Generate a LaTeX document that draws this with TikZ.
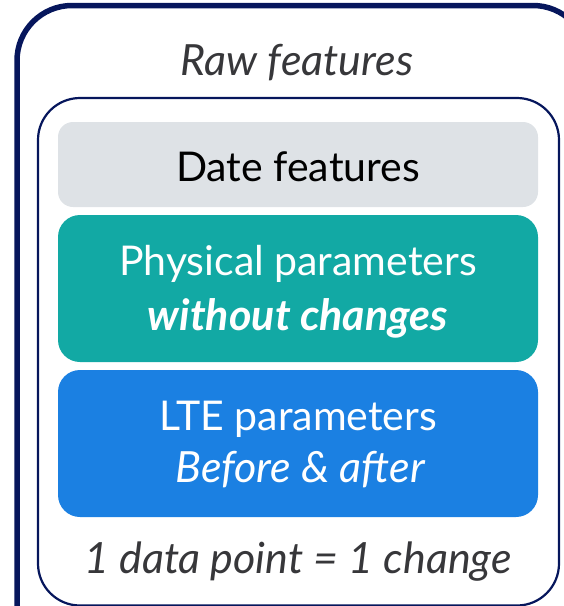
\documentclass[tikz,border=0pt]{standalone}
\usepackage{fontspec}
\setmainfont{Lato}
\definecolor{navy}{RGB}{6,22,92}
\definecolor{grayfill}{RGB}{222,226,230}
\definecolor{tealfill}{RGB}{18,169,164}
\definecolor{bluefill}{RGB}{27,128,226}
\definecolor{txtgray}{RGB}{55,55,58}
\begin{document}
\begin{tikzpicture}[x=1pt,y=-1pt,
  lbl/.style={anchor=base,inner sep=0pt,font=\fontsize{41}{48}\selectfont},
  ilbl/.style={anchor=base,inner sep=0pt,font=\fontsize{43}{50}\selectfont\itshape}]
\useasboundingbox (0,0) rectangle (564,606);
\begin{scope}
\clip (0,0) rectangle (564,606);
\draw[navy,line width=5.5pt,rounded corners=55pt] (17,5.5) rectangle (588,680);
\draw[navy,line width=2.2pt,rounded corners=42pt] (38,98) rectangle (559,605.5);
\end{scope}
\fill[grayfill,rounded corners=15pt] (58,122) rectangle (538,207);
\fill[tealfill,rounded corners=22pt] (58,215) rectangle (538,362);
\fill[bluefill,rounded corners=22pt] (58,370) rectangle (538,517);
\node[ilbl,txtgray] (raw) at (297,75) {Raw features};
\node[lbl,black] (date) at (298,181) {Date features};
\node[lbl,white] (phys) at (298,275) {Physical parameters};
\node[ilbl,white,font=\fontsize{43}{50}\selectfont\bfseries\itshape] (without) at (298,330) {without changes};
\node[lbl,white] (lte) at (298,430) {LTE parameters};
\node[ilbl,white] (before) at (300,482) {Before \& after};
\node[ilbl,txtgray] (one) at (298,573) {1 data point = 1 change};
\end{tikzpicture}
\end{document}
